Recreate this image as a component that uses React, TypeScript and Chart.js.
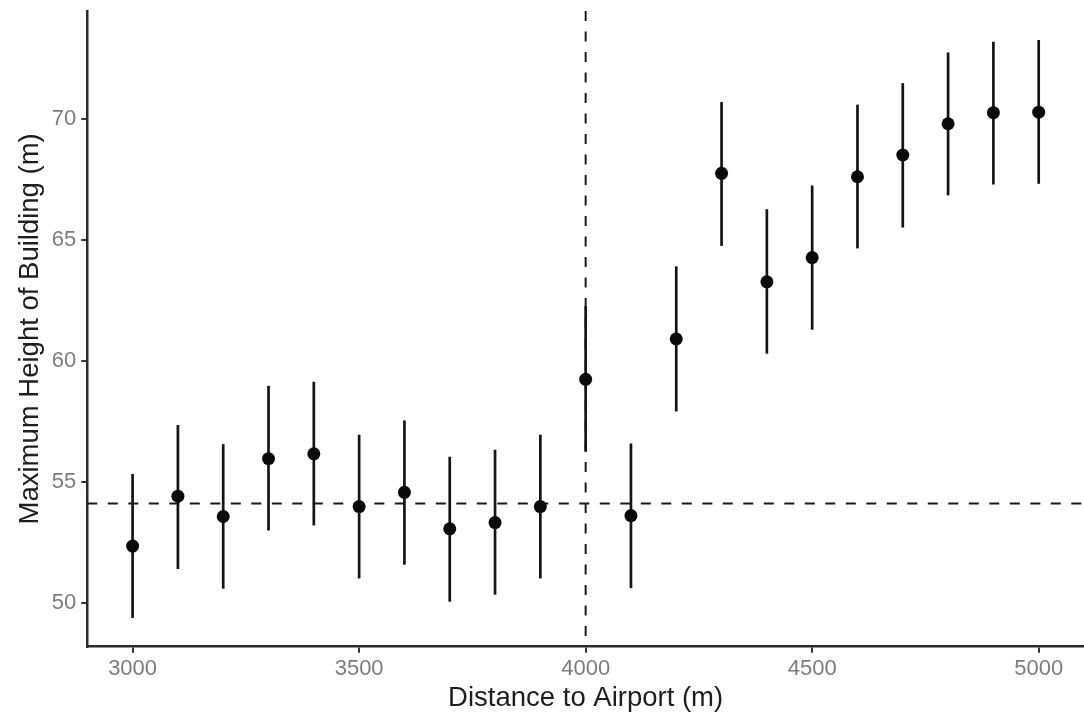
import React, { useEffect, useRef } from "react";
import { Chart, registerables } from "chart.js";

Chart.register(...registerables);

const DISTANCE = [3000, 3100, 3200, 3300, 3400, 3500, 3600, 3700, 3800, 3900, 4000, 4100, 4200, 4300, 4400, 4500, 4600, 4700, 4800, 4900, 5000];
const ESTIMATE = [52.34, 54.4, 53.56, 55.95, 56.15, 53.97, 54.56, 53.05, 53.31, 53.97, 59.23, 53.6, 60.9, 67.74, 63.26, 64.26, 67.6, 68.5, 69.79, 70.25, 70.27];
const LOWER = [49.37, 51.39, 50.58, 52.98, 53.19, 51.0, 51.57, 50.04, 50.33, 51.0, 56.24, 50.6, 57.9, 64.74, 60.29, 61.28, 64.64, 65.5, 66.83, 67.28, 67.31];
const UPPER = [55.32, 57.34, 56.55, 58.96, 59.13, 56.94, 57.53, 56.03, 56.32, 56.94, 62.25, 56.58, 63.9, 70.69, 66.26, 67.24, 70.58, 71.47, 72.74, 73.18, 73.25];

const H_REF = 54.1;
const V_REF = 4000;

const X_TICKS = [3000, 3500, 4000, 4500, 5000];
const Y_TICKS = [50, 55, 60, 65, 70];
const X_LIMITS = [2900, 5100];
const Y_LIMITS = [48.18, 74.45];

const X_TITLE = "Distance to Airport (m)";
const Y_TITLE = "Maximum Height of Building (m)";

const FONT = "'Liberation Sans', Arial, Helvetica, sans-serif";

export default function App() {
  const ref = useRef<HTMLCanvasElement>(null);

  useEffect(() => {
    const canvas = ref.current;
    if (!canvas) return;

    const errorBars = {
      id: "errorBars",
      beforeDatasetsDraw(chart: any) {
        const { ctx, chartArea, scales } = chart;
        const xs = scales.x;
        const ys = scales.y;
        ctx.save();
        // dashed reference lines
        ctx.strokeStyle = "#1a1a1a";
        ctx.lineWidth = 2;
        ctx.setLineDash([10, 10.5]);
        const hy = ys.getPixelForValue(H_REF);
        ctx.beginPath();
        ctx.moveTo(chartArea.left, hy);
        ctx.lineTo(chartArea.right, hy);
        ctx.stroke();
        const vx = xs.getPixelForValue(V_REF);
        ctx.beginPath();
        ctx.moveTo(vx, chartArea.top);
        ctx.lineTo(vx, chartArea.bottom);
        ctx.stroke();
        // error bars
        ctx.setLineDash([]);
        ctx.lineWidth = 2.7;
        ctx.strokeStyle = "#151515";
        for (let i = 0; i < DISTANCE.length; i++) {
          const px = xs.getPixelForValue(DISTANCE[i]);
          ctx.beginPath();
          ctx.moveTo(px, ys.getPixelForValue(LOWER[i]));
          ctx.lineTo(px, ys.getPixelForValue(UPPER[i]));
          ctx.stroke();
        }
        ctx.restore();
      },
    };

    const chart = new Chart(canvas, {
      type: "scatter",
      data: {
        datasets: [
          {
            data: DISTANCE.map((d, i) => ({ x: d, y: ESTIMATE[i] })),
            backgroundColor: "#0a0a0a",
            borderWidth: 0,
            pointRadius: 6.5,
            pointHoverRadius: 6.5,
          },
        ],
      },
      options: {
        animation: false,
        responsive: false,
        events: [],
        layout: { autoPadding: false, padding: { top: 11, left: 0, right: 0, bottom: 0 } },
        plugins: {
          legend: { display: false },
          tooltip: { enabled: false },
          title: { display: false },
        },
        scales: {
          x: {
            type: "linear",
            min: X_LIMITS[0],
            max: X_LIMITS[1],
            afterBuildTicks: (scale: any) => {
              scale.ticks = X_TICKS.map((v) => ({ value: v }));
            },
            afterFit: (scale: any) => {
              scale.height = 68.3;
              scale.paddingLeft = 0;
              scale.paddingRight = 0;
            },
            grid: {
              drawOnChartArea: false,
              drawTicks: true,
              tickLength: 6,
              color: "#333333",
              lineWidth: 2,
            },
            border: { display: true, color: "#2a2a2a", width: 2.5 },
            ticks: {
              padding: 3,
              color: "#7d7d7d",
              font: { family: FONT, size: 22 },
              maxRotation: 0,
              callback: (v: any) => String(v),
            },
            title: {
              display: true,
              text: X_TITLE,
              color: "#1e1e1e",
              font: { family: FONT, size: 27.5 },
              padding: { top: 0, bottom: 0 },
            },
          },
          y: {
            type: "linear",
            min: Y_LIMITS[0],
            max: Y_LIMITS[1],
            afterBuildTicks: (scale: any) => {
              scale.ticks = Y_TICKS.map((v) => ({ value: v }));
            },
            afterFit: (scale: any) => {
              scale.width = 87.3;
              scale.paddingTop = 0;
              scale.paddingBottom = 0;
            },
            grid: {
              drawOnChartArea: false,
              drawTicks: true,
              tickLength: 6,
              color: "#333333",
              lineWidth: 2,
            },
            border: { display: true, color: "#2a2a2a", width: 2.5 },
            ticks: {
              padding: 5,
              color: "#7d7d7d",
              font: { family: FONT, size: 22 },
              callback: (v: any) => String(v),
            },
            title: {
              display: true,
              text: Y_TITLE,
              color: "#1e1e1e",
              font: { family: FONT, size: 27.5 },
              padding: { top: 14, bottom: 0 },
            },
          },
        },
      },
      plugins: [errorBars],
    });

    return () => chart.destroy();
  }, []);

  return (
    <div
      style={{
        position: "fixed",
        left: 0,
        top: 0,
        width: 1084,
        height: 715,
        background: "#ffffff",
      }}
    >
      <canvas ref={ref} width={1084} height={715} style={{ width: 1084, height: 715, display: "block" }} />
    </div>
  );
}
